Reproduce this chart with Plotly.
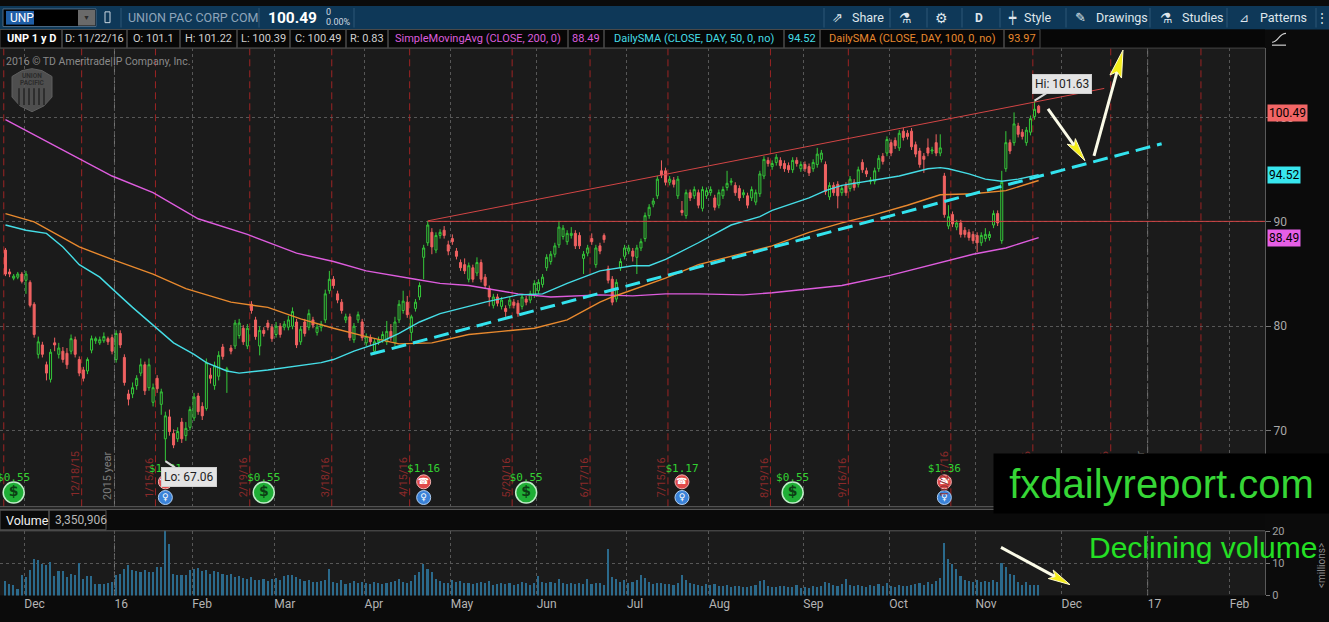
import pandas as pd
import plotly.graph_objects as go

W, H = 1329, 622

# exchange holidays (for the date axis gaps)
holidays = ["2015-11-26", "2015-12-25", "2016-01-01", "2016-01-18", "2016-02-15",
            "2016-03-25", "2016-05-30", "2016-07-04", "2016-09-05", "2016-11-24",
            "2016-12-26", "2017-01-02", "2017-01-16"]

# =========================
# daily candles 11/23/15 .. 11/22/16 (one row per month)
# =========================
opens = [
    87.3, 85.2, 84.6, 84.7, 85.0,
    84.4, 84.2, 82.1, 77.3, 78.2, 76.3, 74.9, 78.4, 77.3, 77.6, 77.4, 77.6, 78.7, 76.8, 75.8, 75.7, 77.7, 78.6, 78.4, 78.6, 78.8, 78.9,
    76.8, 79.3, 77.0, 73.5, 73.5, 74.3, 75.5, 76.3, 74.1, 72.7, 75.0, 72.5, 69.2, 71.3, 69.7, 69.2, 70.8, 69.5, 70.3,
    71.2, 73.3, 72.3, 72.1, 75.3, 74.3, 75.2, 78.0, 75.7, 77.9, 78.1, 79.1, 79.8, 78.1, 82.1, 80.6, 78.1, 79.6, 80.3, 79.9,
    79.2, 80.0, 79.9, 79.9, 80.0, 80.4, 78.5, 80.4, 79.9, 80.6, 79.4, 79.9, 80.6, 83.4, 84.5, 83.1, 82.3, 80.6, 80.9, 78.7, 80.6, 80.4,
    78.4, 78.9, 77.6, 78.5, 78.7, 78.5, 79.5, 78.4, 80.6, 81.5, 82.3, 79.4, 81.7, 82.8, 86.6, 88.0, 89.0, 87.3, 88.7, 89.2, 87.8,
    88.4, 87.2, 86.1, 85.9, 84.5, 85.6, 85.1, 86.1, 84.7, 83.6, 82.0, 82.8, 81.9, 81.7, 82.0, 82.3, 82.2, 81.9, 82.6, 82.5, 83.0,
    83.4, 84.0, 85.6, 86.2, 86.9, 87.8, 88.6, 88.1, 88.7, 88.9, 88.7, 86.5, 87.0, 88.4, 85.9, 87.7, 88.7, 85.5, 84.5, 82.6, 85.6, 86.7,
    87.2, 87.2, 86.6, 87.5, 88.4, 90.6, 91.7, 92.5, 94.9, 94.9, 93.8, 94.0, 92.5, 91.1, 90.6, 92.8, 92.5, 92.8, 91.3, 92.5,
    92.8, 92.3, 91.6, 92.5, 93.3, 93.8, 93.5, 93.2, 92.6, 92.5, 92.3, 91.9, 92.7, 94.4, 95.9, 95.3, 95.7, 95.9, 95.6, 95.4, 95.0, 95.9, 95.1,
    95.5, 95.3, 95.1, 95.5, 96.0, 95.5, 92.4, 93.5, 93.6, 92.8, 93.5, 93.2, 93.8, 93.6, 95.7, 94.9, 93.9, 93.9, 95.1, 96.3, 96.6,
    97.6, 97.8, 97.1, 98.7, 98.5, 98.7, 97.4, 96.8, 96.3, 97.1, 96.8, 97.6, 96.6, 94.4, 89.6, 90.7, 89.5, 89.9, 89.2, 89.0, 88.8,
    88.7, 88.0, 88.4, 88.5, 89.7, 90.8, 88.2, 95.1, 97.6, 97.6, 99.2, 98.6, 97.6, 98.6, 100.1, 101.1,
]
highs = [
    87.5, 85.5, 85.0, 85.2, 85.2,
    85.3, 84.4, 82.3, 79.0, 78.5, 76.6, 77.8, 78.9, 78.4, 78.0, 77.9, 79.2, 79.0, 77.1, 76.1, 77.0, 79.1, 79.0, 79.0, 79.4, 79.0, 79.2,
    79.6, 79.6, 77.3, 73.9, 74.6, 75.3, 76.9, 76.6, 76.9, 74.5, 75.3, 74.0, 71.8, 72.0, 70.1, 70.3, 71.2, 70.8, 72.3,
    73.6, 73.6, 72.7, 76.9, 76.0, 76.6, 77.6, 78.3, 76.1, 78.2, 80.6, 80.7, 80.1, 80.2, 82.4, 80.9, 80.0, 79.9, 80.6, 80.2,
    80.4, 80.3, 80.5, 81.0, 81.8, 80.7, 80.0, 80.7, 81.6, 80.9, 80.2, 80.5, 83.5, 85.3, 84.8, 83.4, 82.6, 81.2, 81.2, 80.3, 81.4, 80.7,
    79.3, 79.2, 78.8, 79.0, 79.5, 80.5, 80.2, 80.9, 82.5, 83.4, 82.9, 81.1, 82.6, 84.2, 87.8, 90.1, 89.4, 89.0, 89.3, 89.6, 88.2,
    88.8, 87.5, 86.4, 86.5, 86.1, 85.9, 86.6, 86.4, 85.0, 83.9, 83.1, 83.1, 82.8, 82.0, 82.8, 82.6, 82.5, 83.1, 82.9, 83.4, 84.4,
    84.5, 85.0, 86.9, 87.2, 88.0, 90.1, 89.7, 89.2, 89.5, 89.2, 89.0, 87.2, 87.8, 88.9, 87.8, 88.0, 88.9, 85.8, 84.8, 84.5, 86.5, 87.8,
    87.8, 87.5, 87.8, 88.4, 90.9, 91.7, 92.3, 94.4, 95.9, 95.2, 94.4, 94.3, 94.4, 92.0, 93.1, 93.1, 93.4, 93.1, 93.4, 93.3,
    93.4, 92.6, 93.1, 93.4, 94.9, 94.2, 93.8, 93.5, 93.1, 92.8, 93.4, 93.1, 94.9, 96.3, 96.2, 95.9, 96.5, 96.2, 95.9, 95.7, 96.2, 96.2, 95.8,
    95.8, 95.6, 96.0, 97.1, 96.9, 95.8, 93.8, 93.8, 93.9, 93.5, 93.8, 94.4, 94.1, 95.3, 96.0, 95.2, 94.3, 95.2, 96.4, 96.6, 98.2,
    97.9, 98.1, 98.8, 99.0, 98.8, 99.0, 97.7, 97.1, 96.6, 98.0, 97.2, 98.4, 98.4, 94.7, 91.6, 91.0, 90.2, 90.2, 89.5, 89.3, 89.1,
    89.0, 89.0, 89.4, 89.1, 91.1, 91.1, 94.9, 98.7, 97.9, 100.5, 99.5, 98.9, 99.1, 100.2, 101.63, 101.22,
]
lows = [
    84.8, 84.7, 84.4, 84.5, 84.1,
    83.1, 81.8, 78.9, 76.9, 77.0, 74.8, 74.6, 77.6, 76.9, 76.5, 75.9, 77.3, 77.0, 75.2, 74.7, 75.4, 77.4, 78.3, 78.2, 78.4, 78.2, 77.3,
    76.5, 77.9, 74.3, 72.4, 73.1, 73.9, 75.2, 73.4, 73.8, 72.3, 73.6, 71.5, 67.06, 69.5, 68.3, 68.9, 68.8, 69.0, 70.0,
    70.9, 71.5, 71.0, 71.9, 74.5, 73.9, 74.8, 76.8, 73.6, 77.3, 77.8, 78.8, 78.2, 77.8, 81.2, 78.7, 77.2, 79.0, 79.6, 78.5,
    78.9, 78.9, 79.6, 79.6, 79.7, 77.9, 78.2, 79.0, 79.6, 79.8, 79.1, 79.5, 80.3, 83.1, 83.6, 82.2, 81.2, 80.3, 78.6, 78.4, 80.3, 78.6,
    78.1, 78.2, 77.3, 78.2, 78.4, 78.2, 78.6, 78.1, 80.3, 81.2, 80.8, 78.6, 81.4, 82.5, 84.5, 87.7, 86.9, 87.0, 88.4, 88.4, 86.8,
    87.8, 86.4, 85.3, 85.0, 84.2, 84.2, 84.8, 84.2, 83.6, 81.9, 81.7, 81.9, 81.6, 80.9, 81.7, 81.7, 80.9, 81.6, 82.0, 82.2, 82.7,
    83.1, 83.7, 85.3, 85.9, 86.6, 87.5, 88.3, 87.8, 88.4, 87.4, 87.4, 85.0, 86.7, 87.8, 85.6, 86.9, 88.0, 84.1, 82.0, 82.3, 85.3, 86.4,
    86.9, 86.2, 85.0, 87.2, 88.1, 90.3, 91.4, 92.2, 94.2, 93.5, 93.5, 93.3, 92.2, 90.6, 90.3, 92.0, 92.2, 91.3, 91.0, 92.2,
    92.5, 91.1, 91.3, 92.2, 93.0, 93.5, 92.5, 92.0, 92.3, 91.3, 92.0, 91.6, 92.4, 94.1, 95.3, 95.0, 95.4, 95.1, 94.8, 94.7, 94.7, 95.3, 94.8,
    94.8, 94.4, 94.8, 95.2, 95.7, 92.6, 92.1, 92.5, 91.3, 92.5, 92.5, 92.9, 93.0, 93.3, 94.7, 94.3, 93.6, 93.6, 94.8, 95.5, 96.3,
    96.3, 97.0, 96.8, 97.8, 97.9, 96.9, 96.2, 95.2, 94.7, 96.3, 96.5, 96.3, 96.3, 90.4, 89.3, 89.5, 89.2, 88.5, 88.5, 88.2, 87.9,
    87.1, 87.7, 88.1, 88.2, 89.4, 89.6, 87.9, 94.8, 96.5, 97.3, 98.1, 97.9, 97.3, 98.3, 99.8, 100.39,
]
closes = [
    85.0, 85.0, 84.8, 85.0, 84.3,
    85.0, 82.0, 79.2, 78.5, 77.3, 75.5, 77.5, 78.2, 77.9, 76.8, 76.3, 78.8, 77.3, 75.5, 75.0, 76.8, 78.8, 78.8, 78.7, 79.0, 78.5, 77.6,
    79.3, 78.2, 74.6, 73.0, 74.1, 75.0, 76.3, 73.8, 76.3, 74.1, 74.0, 73.7, 71.4, 69.9, 68.6, 69.9, 69.2, 70.2, 72.0,
    73.2, 71.8, 71.4, 76.5, 75.0, 76.2, 77.2, 77.1, 75.9, 77.6, 80.3, 80.3, 78.5, 79.8, 81.5, 79.0, 79.6, 79.3, 79.9, 78.8,
    80.0, 79.2, 80.2, 80.6, 81.4, 78.2, 79.7, 79.3, 81.2, 80.1, 79.9, 80.2, 83.1, 84.5, 83.9, 82.5, 81.5, 80.9, 78.9, 80.0, 81.1, 78.9,
    79.0, 78.5, 78.5, 78.7, 79.2, 79.5, 78.9, 80.4, 82.1, 82.4, 81.1, 80.9, 82.3, 83.9, 87.5, 89.7, 87.6, 88.7, 89.0, 88.7, 87.2,
    88.1, 86.7, 85.6, 85.3, 85.8, 84.5, 86.1, 84.5, 83.9, 82.8, 82.8, 82.2, 82.5, 81.4, 82.5, 82.0, 81.2, 82.8, 82.3, 83.1, 84.1,
    84.2, 84.7, 86.6, 86.9, 87.7, 89.5, 89.4, 88.9, 88.9, 87.7, 87.7, 86.9, 87.5, 88.1, 87.5, 87.2, 88.3, 84.4, 82.3, 84.2, 86.2, 87.5,
    87.5, 86.7, 87.5, 88.1, 90.6, 91.4, 92.0, 94.1, 94.5, 93.8, 94.1, 93.6, 94.1, 90.9, 92.8, 92.3, 93.1, 91.6, 93.1, 93.0,
    93.1, 91.4, 92.8, 93.1, 93.7, 93.9, 92.8, 92.3, 92.8, 91.6, 93.1, 92.8, 94.6, 96.0, 95.6, 95.6, 96.2, 95.4, 95.1, 95.0, 95.9, 95.6, 95.5,
    95.1, 94.7, 95.7, 96.5, 96.6, 92.9, 93.5, 92.8, 92.5, 93.2, 92.8, 94.1, 93.3, 95.0, 95.0, 94.6, 94.0, 94.9, 96.1, 95.8, 97.9,
    96.6, 97.3, 98.5, 98.1, 98.2, 97.2, 96.5, 95.5, 96.0, 96.6, 96.9, 96.6, 97.1, 90.7, 90.5, 89.8, 89.9, 88.8, 88.8, 88.5, 88.2,
    88.0, 88.7, 88.8, 88.8, 90.8, 89.9, 93.8, 97.6, 96.8, 99.4, 98.4, 98.2, 98.8, 99.9, 100.8, 100.49,
]
# volume, millions of shares
volumes = [
    4.7, 3.7, 3.2, 2.1, 6.3,
    5.8, 7.9, 11.6, 11.0, 10.0, 9.5, 10.5, 6.1, 7.6, 7.7, 5.8, 6.8, 6.3, 10.2, 5.3, 6.0, 6.1, 3.5, 3.7, 3.7, 3.9, 4.2,
    6.5, 6.8, 8.4, 9.5, 7.9, 7.7, 7.4, 7.9, 7.4, 7.4, 8.9, 8.9, 20.5, 16.0, 6.8, 6.3, 6.5, 6.5, 7.9,
    8.4, 8.7, 7.6, 7.9, 6.8, 7.7, 7.4, 6.8, 6.4, 6.8, 5.8, 6.2, 5.5, 5.2, 5.8, 5.0, 4.8, 5.3, 4.6, 5.1,
    5.5, 4.8, 6.0, 6.3, 6.6, 5.9, 5.2, 4.5, 4.9, 4.2, 4.4, 4.6, 5.0, 8.4, 4.3, 3.9, 4.9, 3.6, 4.1, 4.6, 3.8, 4.3,
    4.0, 3.6, 4.4, 3.9, 3.5, 3.8, 4.2, 4.7, 5.1, 4.3, 4.0, 4.5, 6.5, 7.4, 10.0, 8.3, 7.4, 5.2, 4.6, 3.9, 4.1,
    4.8, 4.2, 4.5, 3.9, 4.1, 3.6, 3.8, 4.4, 4.0, 4.6, 3.4, 3.7, 3.9, 3.5, 3.8, 3.3, 3.6, 4.2, 3.9, 3.2, 4.0,
    6.1, 4.2, 4.0, 4.4, 3.8, 5.3, 3.9, 3.6, 4.1, 3.7, 4.0, 3.5, 5.2, 3.6, 3.9, 3.8, 3.4, 14.7, 5.8, 5.3, 4.3, 4.9,
    3.9, 4.3, 4.8, 6.3, 5.6, 4.4, 3.7, 4.1, 3.9, 3.5, 3.6, 3.2, 3.8, 6.5, 4.8, 3.9, 3.6, 3.4, 3.1, 3.5,
    3.3, 3.6, 3.1, 2.9, 3.4, 2.7, 2.9, 3.0, 2.6, 2.8, 2.9, 3.2, 4.7, 5.0, 3.1, 2.8, 2.7, 2.9, 3.0, 2.6, 2.8, 3.2, 2.5,
    2.7, 2.4, 2.9, 2.6, 3.0, 4.4, 3.8, 3.2, 3.0, 3.5, 5.3, 3.3, 2.9, 3.4, 3.1, 2.8, 3.2, 2.9, 3.6, 3.0, 3.8,
    3.1, 2.8, 3.3, 2.9, 3.0, 3.4, 3.6, 3.9, 3.2, 4.2, 3.5, 4.6, 5.5, 16.6, 11.4, 10.0, 8.4, 6.0, 5.0, 4.6, 4.3,
    4.8, 4.4, 4.5, 4.2, 4.9, 4.3, 10.3, 8.9, 6.8, 6.3, 4.2, 3.2, 4.4, 3.2, 3.2, 3.35,
]

# moving averages at a few dates
sma200_dates = ["2015-11-23", "2015-12-18", "2015-12-31", "2016-01-15", "2016-02-02", "2016-02-19",
                "2016-03-08", "2016-03-21", "2016-04-01", "2016-04-19", "2016-04-27", "2016-05-06",
                "2016-05-24", "2016-06-06", "2016-06-22", "2016-07-05", "2016-07-15", "2016-07-27",
                "2016-08-11", "2016-08-22", "2016-09-15", "2016-10-03", "2016-10-19", "2016-10-31",
                "2016-11-10", "2016-11-22"]
sma200_vals = [99.8, 96.1, 94.4, 92.8, 90.3, 88.8, 87.0, 86.2, 85.3, 84.5, 84.1, 83.9, 83.1, 82.8,
               83.0, 82.9, 83.1, 83.1, 83.0, 83.2, 83.9, 84.9, 86.1, 86.9, 87.5, 88.49]

sma50_dates = ["2015-11-23", "2015-12-01", "2015-12-08", "2015-12-14", "2015-12-18", "2015-12-28",
               "2015-12-31", "2016-01-08", "2016-01-15", "2016-01-25", "2016-02-01", "2016-02-04",
               "2016-02-11", "2016-02-17", "2016-02-26", "2016-03-09", "2016-03-16", "2016-03-21",
               "2016-03-29", "2016-04-06", "2016-04-13", "2016-04-20", "2016-04-27", "2016-05-12",
               "2016-05-24", "2016-06-02", "2016-06-10", "2016-06-22", "2016-07-05", "2016-07-11",
               "2016-07-15", "2016-07-27", "2016-08-08", "2016-08-17", "2016-08-22", "2016-09-02",
               "2016-09-09", "2016-09-15", "2016-09-27", "2016-10-05", "2016-10-14", "2016-10-19",
               "2016-10-21", "2016-10-28", "2016-11-03", "2016-11-09", "2016-11-15", "2016-11-22"]
sma50_vals = [89.7, 89.2, 88.9, 87.6, 85.9, 84.7, 83.6, 81.8, 80.1, 78.4, 77.3, 76.5, 75.7, 75.5,
              75.8, 76.2, 76.5, 76.8, 77.6, 78.4, 79.3, 80.4, 81.2, 82.3, 83.0, 83.1, 84.1, 85.3,
              85.8, 85.8, 86.4, 88.0, 89.7, 90.5, 91.1, 92.3, 93.0, 93.5, 94.0, 94.4, 95.1, 95.2,
              95.1, 94.6, 94.1, 93.9, 94.1, 94.52]

sma100_dates = ["2015-11-23", "2015-12-03", "2015-12-18", "2015-12-31", "2016-01-15", "2016-01-28",
                "2016-02-12", "2016-02-26", "2016-03-09", "2016-03-21", "2016-04-01", "2016-04-13",
                "2016-04-25", "2016-05-06", "2016-05-18", "2016-05-31", "2016-06-10", "2016-06-22",
                "2016-06-27", "2016-07-15", "2016-07-27", "2016-08-08", "2016-08-22", "2016-09-02",
                "2016-09-15", "2016-09-27", "2016-10-07", "2016-10-19", "2016-10-31", "2016-11-10",
                "2016-11-22"]
sma100_vals = [90.8, 90.0, 87.6, 86.4, 85.0, 83.6, 82.3, 81.8, 80.7, 79.8, 79.0, 78.3, 78.4, 79.2,
               79.5, 79.8, 80.6, 82.3, 82.8, 84.6, 85.9, 86.7, 87.7, 89.0, 89.9, 90.7, 91.6, 92.6,
               92.7, 93.0, 93.97]

# hand-drawn lines
trend_x = ["2016-04-04", "2017-01-06"]
trend_y = [77.3, 97.5]
channel_x = ["2016-04-22", "2016-12-15"]
channel_y = [90.1, 102.8]
resist_level = 90.05

# axis ticks / events
month_starts = ["2015-12-01", "2016-01-04", "2016-02-01", "2016-03-01", "2016-04-01",
                "2016-05-02", "2016-06-01", "2016-07-01", "2016-08-01", "2016-09-01",
                "2016-10-03", "2016-11-01", "2016-12-01", "2017-01-03", "2017-02-01"]
month_labels = ["Dec", "16", "Feb", "Mar", "Apr", "May", "Jun", "Jul", "Aug", "Sep",
                "Oct", "Nov", "Dec", "17", "Feb"]
expiries = ["2015-11-20", "2015-12-18", "2016-01-15", "2016-02-19", "2016-03-18",
            "2016-04-15", "2016-05-20", "2016-06-17", "2016-07-15", "2016-08-19",
            "2016-09-16", "2016-10-21", "2016-11-18", "2016-12-16", "2017-01-20"]
expiry_labels = ["", "12/18/15", "1/15/16", "2/19/16", "3/18/16", "4/15/16", "5/20/16",
                 "6/17/16", "7/15/16", "8/19/16", "9/16/16", "10/21/16", "11/18/16",
                 "12/16/16", "1/20/17"]
year_starts = ["2016-01-04", "2017-01-03"]
year_labels = ["2015 year", "2016 year"]
div_dates = ["2015-11-25", "2016-02-25", "2016-05-26", "2016-08-29"]
div_amounts = ["$0.55", "$0.55", "$0.55", "$0.55"]
earn_dates = ["2016-01-21", "2016-04-21", "2016-07-21", "2016-10-20"]
earn_eps = ["$1.31", "$1.16", "$1.17", "$1.36"]

assert len(opens) == len(highs) == len(lows) == len(closes) == len(volumes) == 253

cal = pd.bdate_range("2015-11-23", "2017-02-28", freq="C", holidays=holidays)
dates = cal[:len(closes)]


def before(day):
    # gridline sits between the previous session and the first session of the month
    i = cal.get_loc(pd.Timestamp(day))
    return cal[i - 1] + pd.Timedelta(hours=14)


grid_x = [before(d) for d in month_starts]
year_x = [before(d) for d in year_starts]
expiry_x = [pd.Timestamp(d) + pd.Timedelta(hours=14) for d in expiries]

# colours
PLOT_BG = "#1b1b1b"
PAPER_BG = "#0b0b0b"
GREEN = "#35c93a"
RED = "#f06262"
MAGENTA = "#dd5cdd"
CYAN = "#45dde6"
ORANGE = "#e8892e"
GRID = "#575757"
FONT = "Roboto"


def fx(x):
    return x / W


def fy(y):
    return 1 - y / H


def price_at(y):
    # pixel row inside the price pane -> price
    return 100 - (y - 114) / 10.65


breaks = [dict(bounds=["sat", "mon"]), dict(values=holidays)]
x_range = ["2015-11-19 16:00", "2017-02-13 05:00"]
X1 = fx(1265)

fig = go.Figure()

fig.add_trace(go.Candlestick(
    x=dates, open=opens, high=highs, low=lows, close=closes,
    increasing=dict(line=dict(color=GREEN, width=1), fillcolor=PLOT_BG),
    decreasing=dict(line=dict(color=RED, width=1), fillcolor=RED),
    whiskerwidth=0, hoverinfo="skip", showlegend=False,
))
for xs, ys, col in [(sma200_dates, sma200_vals, MAGENTA),
                    (sma100_dates, sma100_vals, ORANGE),
                    (sma50_dates, sma50_vals, CYAN)]:
    fig.add_trace(go.Scatter(x=xs, y=ys, mode="lines", line=dict(color=col, width=1.4),
                             hoverinfo="skip", showlegend=False))

# dividend / earnings markers
fig.add_trace(go.Scatter(
    x=div_dates, y=[price_at(497)] * len(div_dates), mode="markers+text",
    marker=dict(size=21, color="#1fae36", line=dict(color="#bfeec8", width=1.5)),
    text=["<b>$</b>"] * len(div_dates), textposition="middle center",
    textfont=dict(family="DejaVu Sans", size=14, color="#0c3d14"),
    hoverinfo="skip", showlegend=False))
fig.add_trace(go.Scatter(
    x=div_dates, y=[price_at(482)] * len(div_dates), mode="text", text=div_amounts,
    textfont=dict(family="DejaVu Sans Mono", size=11, color="#32d132"),
    hoverinfo="skip", showlegend=False))
fig.add_trace(go.Scatter(
    x=earn_dates, y=[price_at(486)] * len(earn_dates), mode="markers+text",
    marker=dict(size=14, color="#e04a4a", line=dict(color="#f2b0b0", width=1)),
    text=["☎"] * len(earn_dates), textposition="middle center",
    textfont=dict(family="DejaVu Sans", size=9, color="#ffffff"),
    hoverinfo="skip", showlegend=False))
fig.add_trace(go.Scatter(
    x=earn_dates, y=[price_at(502)] * len(earn_dates), mode="markers+text",
    marker=dict(size=14, color="#3a82d8", line=dict(color="#b0cff2", width=1)),
    text=["♀"] * len(earn_dates), textposition="middle center",
    textfont=dict(family="DejaVu Sans", size=9, color="#ffffff"),
    hoverinfo="skip", showlegend=False))
fig.add_trace(go.Scatter(
    x=earn_dates, y=[price_at(473)] * len(earn_dates), mode="text", text=earn_eps,
    textfont=dict(family="DejaVu Sans Mono", size=11, color="#32d132"),
    hoverinfo="skip", showlegend=False))

fig.add_trace(go.Bar(
    x=dates, y=volumes, marker=dict(color="#2b6a8c", line=dict(width=0)),
    width=0.4 * 86400000, xaxis="x2", yaxis="y2", hoverinfo="skip", showlegend=False))

shapes = []
annos = []


def rect(x0, y0, x1, y1, fill, line=None, layer="above"):
    shapes.append(dict(type="rect", xref="paper", yref="paper", x0=fx(x0), x1=fx(x1),
                       y0=fy(y1), y1=fy(y0), fillcolor=fill, layer=layer,
                       line=dict(color=line or fill, width=1 if line else 0)))


def seg(x0, y0, x1, y1, color, width=1, dash="solid"):
    shapes.append(dict(type="line", xref="paper", yref="paper", x0=fx(x0), x1=fx(x1),
                       y0=fy(y0), y1=fy(y1), line=dict(color=color, width=width, dash=dash)))


def text(x, y, s, size=12, color="#d0d0d0", anchor="left", family=FONT, **kw):
    annos.append(dict(xref="paper", yref="paper", x=fx(x), y=fy(y), text=s, showarrow=False,
                      xanchor=anchor, yanchor="middle",
                      font=dict(family=family, size=size, color=color), **kw))


def arrow(tail, tip, head_len, half_w):
    (tx, ty), (hx, hy) = tail, tip
    dx, dy = hx - tx, hy - ty
    n = (dx * dx + dy * dy) ** 0.5
    ux, uy = dx / n, dy / n
    bx, by = hx - ux * head_len, hy - uy * head_len
    seg(tx, ty, bx + ux * 6, by + uy * 6, "#fbfbe8", 3)
    pts = [(hx, hy), (bx - uy * half_w, by + ux * half_w), (bx + ux * 5, by + uy * 5),
           (bx + uy * half_w, by - ux * half_w)]
    path = "M " + " L ".join(f"{fx(a):.5f},{fy(b):.5f}" for a, b in pts) + " Z"
    shapes.append(dict(type="path", xref="paper", yref="paper", path=path,
                       fillcolor="#f5ee1a", line=dict(color="#fffbd0", width=1)))


# ---- price pane drawings
for xv, lab in zip(expiry_x, expiry_labels):
    shapes.append(dict(type="line", xref="x", yref="y domain", x0=xv, x1=xv, y0=0, y1=1,
                       layer="below", line=dict(color="#9c2424", width=1, dash="7px,4px")))
    if lab:
        annos.append(dict(x=xv, y=price_at(504), xref="x", yref="y", text=lab, textangle=-90,
                          showarrow=False, xanchor="center", yanchor="bottom", xshift=-6,
                          font=dict(family=FONT, size=11, color="#8a2a2a")))
for xv, lab in zip(year_x, year_labels):
    for yr in ("y domain", "y2 domain"):
        shapes.append(dict(type="line", xref="x", yref=yr, x0=xv, x1=xv, y0=0, y1=1,
                           layer="below", line=dict(color="#777777", width=1, dash="6px,3px")))
    annos.append(dict(x=xv, y=price_at(506), xref="x", yref="y", text=lab, textangle=-90,
                      showarrow=False, xanchor="center", yanchor="bottom", xshift=-7,
                      font=dict(family=FONT, size=11, color="#7d7d7d")))

shapes.append(dict(type="line", xref="x", yref="y", x0=channel_x[0], x1=x_range[1],
                   y0=resist_level, y1=resist_level, line=dict(color="#d24545", width=1)))
shapes.append(dict(type="line", xref="x", yref="y", x0=channel_x[0], x1=channel_x[1],
                   y0=channel_y[0], y1=channel_y[1], line=dict(color="#d24545", width=1)))
shapes.append(dict(type="line", xref="x", yref="y", x0=trend_x[0], x1=trend_x[1],
                   y0=trend_y[0], y1=trend_y[1], line=dict(color="#33e3ee", width=3, dash="15px,7px")))

# hi / lo callouts
i_lo = lows.index(min(lows))
i_hi = highs.index(max(highs))
annos.append(dict(x=dates[i_lo], y=lows[i_lo], xref="x", yref="y", text=f"Lo: {lows[i_lo]:.2f}",
                  showarrow=True, arrowhead=0, arrowwidth=2, arrowcolor="#d9d9d9", ax=24, ay=16,
                  bgcolor="#e4e4e4", bordercolor="#cfcfcf", borderpad=2,
                  font=dict(family=FONT, size=12, color="#1e1e1e")))
annos.append(dict(x=dates[i_hi], y=highs[i_hi], xref="x", yref="y", text=f"Hi: {highs[i_hi]:.2f}",
                  showarrow=True, arrowhead=0, arrowwidth=2, arrowcolor="#d9d9d9", ax=27, ay=-17,
                  bgcolor="#e4e4e4", bordercolor="#cfcfcf", borderpad=2,
                  font=dict(family=FONT, size=12, color="#1e1e1e")))

# last-value tags on the price scale
for val, col in [(closes[-1], "#f26666"), (sma50_vals[-1], "#38e6ee"), (sma200_vals[-1], "#e65fe6")]:
    annos.append(dict(x=fx(1267), y=val, xref="paper", yref="y", text=f"{val:.2f}",
                      showarrow=False, xanchor="left", yanchor="middle", bgcolor=col, borderpad=1,
                      font=dict(family=FONT, size=12, color="#000000")))

# ---- toolbar
rect(0, 0, W, 24, "#0e3858", layer="below")
rect(3, 3, 96, 21, "#000000", "#4d6a85")
rect(6, 5, 34, 19, "#1f5ea6")
rect(78, 4, 95, 20, "#6a6a6a")
text(8, 12, "UNP", 12, "#ffffff")
text(86.5, 12, "▼", 7, "#2a2a2a", anchor="center")
rect(105, 6, 110, 17, "rgba(0,0,0,0)", "#c9d5df")
for xs in (121, 259, 354, 824, 890, 927, 962, 1000, 1066, 1150, 1227, 1316):
    seg(xs, 2, xs, 22, "#2c5677")
text(126, 12, "UNION PAC CORP COM", 12.5, "#8ea5ba")
text(266, 12, "<b>100.49</b>", 15.5, "#ffffff")
text(324, 6.5, "0", 9, "#d0d8e0")
text(324, 16.5, "0.00%", 9, "#d0d8e0")
text(838, 12, "⇗", 13, "#dfe6ec", anchor="center")
text(850, 12, "Share", 12.5, "#dfe6ec")
text(905, 12, "⚗", 14, "#dfe6ec", anchor="center")
text(941, 12, "⚙", 14, "#dfe6ec", anchor="center")
text(979, 12, "<b>D</b>", 12, "#dfe6ec", anchor="center")
text(1012, 12, "┿", 12, "#dfe6ec", anchor="center")
text(1022, 12, "Style", 12.5, "#dfe6ec")
text(1080, 12, "✎", 13, "#dfe6ec", anchor="center")
text(1094, 12, "Drawings", 12.5, "#dfe6ec")
text(1166, 12, "⚗", 14, "#dfe6ec", anchor="center")
text(1180, 12, "Studies", 12.5, "#dfe6ec")
text(1244, 12, "⊿", 12, "#dfe6ec", anchor="center")
text(1258, 12, "Patterns", 12.5, "#dfe6ec")
text(1322, 12, "⋮", 12, "#dfe6ec", anchor="center")

# ---- study header row
rect(0, 24, 1265, 43, "#070707", layer="below")
last = -1
header = [
    (0, 62, "<b>UNP 1 y D</b>", "#ffffff"),
    (62, 127, "D: 11/22/16", "#cfcfcf"),
    (127, 180, f"O: {opens[last]}", "#cfcfcf"),
    (180, 237, f"H: {highs[last]}", "#cfcfcf"),
    (237, 290, f"L: {lows[last]}", "#cfcfcf"),
    (290, 346, f"C: {closes[last]}", "#cfcfcf"),
    (346, 388, "R: 0.83", "#cfcfcf"),
    (388, 568, "SimpleMovingAvg (CLOSE, 200, 0)", MAGENTA),
    (568, 604, f"{sma200_vals[last]}", MAGENTA),
    (604, 784, "DailySMA (CLOSE, DAY, 50, 0, no)", CYAN),
    (784, 820, f"{sma50_vals[last]}", CYAN),
    (820, 1004, "DailySMA (CLOSE, DAY, 100, 0, no)", ORANGE),
    (1004, 1040, f"{sma100_vals[last]}", ORANGE),
]
for x0, x1, s, col in header:
    rect(x0, 24, x1, 43, "rgba(0,0,0,0)", "#4a4a4a")
    text((x0 + x1) / 2, 33.5, s, 11, col, anchor="center")
shapes.append(dict(type="path", xref="paper", yref="paper", line=dict(color="#cfcfcf", width=1.2),
                   path=f"M {fx(1272)},{fy(37)} C {fx(1278)},{fy(37)} {fx(1279)},{fy(28)} {fx(1286)},{fy(28)}"))
seg(1272, 40, 1286, 40, "#cfcfcf", 1.2)

# watermark + logo
text(4, 57, "2016 © TD Ameritrade|IP Company, Inc.", 10.5, "#8a8a8a")
shield = [(12, 72), (22, 66), (32, 64), (42, 66), (52, 72), (52, 93), (44, 102), (32, 108),
          (20, 102), (12, 93)]
shapes.append(dict(type="path", xref="paper", yref="paper", layer="below",
                   path="M " + " L ".join(f"{fx(a):.5f},{fy(b):.5f}" for a, b in shield) + " Z",
                   fillcolor="#4e4e4e", line=dict(color="#5e5e5e", width=1)))
for xs in range(19, 48, 5):
    seg(xs, 84, xs, 101 if 17 < xs < 47 else 95, "#2e2e2e", 2)
text(32, 72, "<b>UNION</b>", 6.5, "#2c2c2c", anchor="center")
text(32, 79, "<b>PACIFIC</b>", 6.5, "#2c2c2c", anchor="center")

# pane borders
seg(0, 43, 1265, 43, "#454545")
seg(0, 511.5, 1265, 511.5, "#707070")
seg(0, 514, 1265, 514, "#707070")
rect(0, 514.5, 1265, 535, "#0a0a0a", layer="below")
rect(0, 515, 49, 535, "rgba(0,0,0,0)", "#555555")
rect(49, 515, 106, 535, "rgba(0,0,0,0)", "#555555")
text(4, 525, "Volume", 12.5, "#f0f0f0")
text(53, 525, "3,350,906", 12, "#b8b8b8")
seg(0, 536, 1265, 536, "#5c5c5c")
text(1321, 572, "<millions>", 10, "#8a8a8a", anchor="center", textangle=-90)

# annotations drawn on top
arrow((1048, 105), (1085, 158), 24, 5)
arrow((1094, 153), (1123, 45), 28, 6)
arrow((1001, 553), (1070, 591), 22, 5)
text(1203, 553, "Declining volume", 30, "#24e024", anchor="center", family="Liberation Sans")
annos.append(dict(xref="paper", yref="paper", x=fx(1161.5), y=fy(487.5), text="fxdailyreport.com",
                  showarrow=False, xanchor="center", yanchor="middle", width=335, height=59,
                  bgcolor="#000000", borderpad=0,
                  font=dict(family="Liberation Sans", size=40, color="#36d636")))

axis_common = dict(type="date", range=x_range, rangebreaks=breaks, tickvals=grid_x,
                   showgrid=True, gridcolor=GRID, griddash="dot", gridwidth=1,
                   zeroline=False, showline=False, fixedrange=True)

fig.update_layout(
    width=W, height=H, margin=dict(l=0, r=0, t=0, b=0),
    paper_bgcolor=PAPER_BG, plot_bgcolor=PLOT_BG, showlegend=False, dragmode=False,
    bargap=0,
    xaxis=dict(domain=[0, X1], anchor="y", showticklabels=False, ticks="",
               rangeslider=dict(visible=False), **axis_common),
    xaxis2=dict(domain=[0, X1], anchor="y2", ticktext=month_labels, ticks="",
                ticklabelposition="outside right",
                tickfont=dict(family=FONT, size=12, color="#b4b4b4"), **axis_common),
    yaxis=dict(domain=[fy(511), fy(43)], range=[price_at(511), price_at(43)], side="right",
               anchor="x", tickvals=[70, 80, 90, 100], ticks="outside", ticklen=5,
               tickcolor="#777777", showline=True, linecolor="#5a5a5a",
               tickfont=dict(family=FONT, size=12, color="#a8a8a8"),
               showgrid=True, gridcolor=GRID, griddash="dot", zeroline=False, fixedrange=True),
    yaxis2=dict(domain=[fy(602), fy(536)], range=[0, 20.2], side="right", anchor="x2",
                tickvals=[0, 10, 20], ticks="outside", ticklen=4, tickcolor="#777777",
                showline=True, linecolor="#5a5a5a",
                tickfont=dict(family=FONT, size=11, color="#a0a0a0"),
                showgrid=True, gridcolor=GRID, griddash="dot", zeroline=False, fixedrange=True),
    shapes=shapes,
    annotations=annos,
)

fig.write_html("out.html", config={"displayModeBar": False},
               post_script="document.body.style.margin='0';document.body.style.overflow='hidden';")
